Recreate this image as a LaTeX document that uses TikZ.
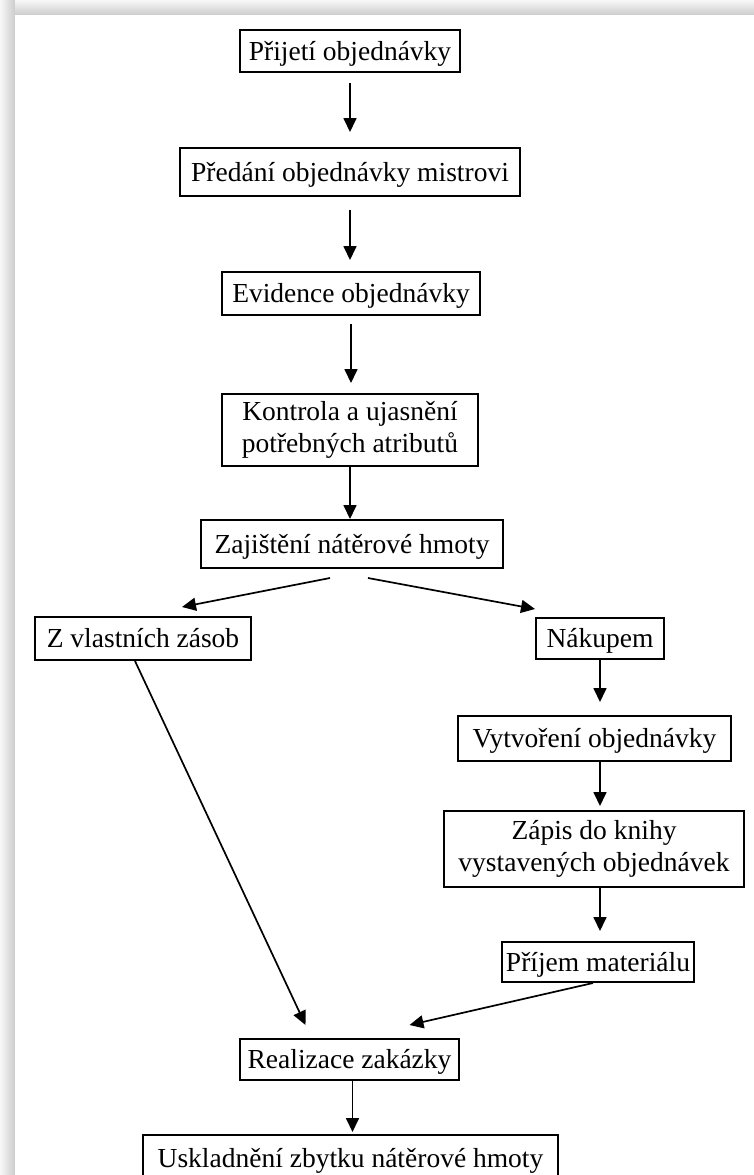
\documentclass[tikz,border=0pt]{standalone}
\usepackage{fontspec}
\setmainfont{Liberation Serif}
\usetikzlibrary{arrows.meta}

\begin{document}
\begin{tikzpicture}
    [x=0.5pt,y=-0.5pt,
    task box/.style={draw,line width=1pt,align=center,inner sep=0pt,
        font=\fontsize{13.75}{16}\selectfont},
    one line/.style={text height=12pt,text depth=3pt},
    flow arrow/.style={-{Triangle[width=6.5pt,length=7pt]},line width=0.85pt}]

%page with its shadow
\useasboundingbox (0,0) rectangle (754,1175);
\fill[gray!25] (0,0) rectangle (754,1175);
\shade[left color=gray!6,right color=gray!40] (0,0) rectangle (15,1175);
\shade[top color=gray!6,bottom color=gray!40] (15,0) rectangle (754,15);
\fill[white] (15,15) rectangle (754,1175);

%main line of boxes
\node[task box,one line,minimum width=110pt,minimum height=21pt] (prijeti) at (350,51) {Přijetí objednávky};
\node[task box,one line,minimum width=170pt,minimum height=24pt] (predani) at (350,172) {Předání objednávky mistrovi};
\node[task box,one line,minimum width=129pt,minimum height=21.5pt] (evidence) at (351,293.5) {Evidence objednávky};
\node[task box,minimum width=128pt,minimum height=36pt] (kontrola) at (350,430) {Kontrola a ujasnění\\potřebných atributů};
\node[task box,one line,minimum width=151pt,minimum height=24pt] (zajisteni) at (352,544) {Zajištění nátěrové hmoty};

%the two ways
\node[task box,one line,minimum width=108pt,minimum height=21.5pt] (zasoby) at (143,638.5) {Z vlastních zásob};
\node[task box,one line,minimum width=64pt,minimum height=20.5pt] (nakupem) at (600,638.5) {Nákupem};
\node[task box,one line,minimum width=136.5pt,minimum height=22.5pt] (vytvoreni) at (594.5,738.5) {Vytvoření objednávky};
\node[task box,minimum width=150pt,minimum height=38pt] (zapis) at (594,849) {Zápis do knihy\\vystavených objednávek};
\node[task box,one line,minimum width=96pt,minimum height=20pt] (prijem) at (598,962) {Příjem materiálu};

%end of the order
\node[task box,one line,minimum width=109.5pt,minimum height=20.5pt] (realizace) at (349.5,1059.5) {Realizace zakázky};
\node[task box,one line,minimum width=207.5pt,minimum height=23pt] (uskladneni) at (350.5,1158) {Uskladnění zbytku nátěrové hmoty};

%arrows
\draw[flow arrow,shorten <=5pt,shorten >=7.5pt] (prijeti.south) -- (prijeti.south |- predani.north);
\draw[flow arrow,shorten <=6.5pt,shorten >=5.5pt] (predani.south) -- (predani.south |- evidence.north);
\draw[flow arrow,shorten <=4pt,shorten >=5pt] (evidence.south) -- (evidence.south |- kontrola.north);
\draw[flow arrow] (kontrola.south) -- (kontrola.south |- zajisteni.north);
\draw[flow arrow] ([xshift=-11pt,yshift=-4.5pt]zajisteni.south) -- ([xshift=19.5pt,yshift=4.5pt]zasoby.north);
\draw[flow arrow] ([xshift=8pt,yshift=-4.5pt]zajisteni.south) -- ([yshift=4pt]nakupem.north west);
\draw[flow arrow,shorten >=6.5pt] (nakupem.south) -- (nakupem.south |- vytvoreni.north);
\draw[flow arrow,shorten >=2pt] (vytvoreni.south -| nakupem) -- (zapis.north -| nakupem);
\draw[flow arrow,shorten >=5pt] (zapis.south -| nakupem) -- (prijem.north -| nakupem);
\draw[flow arrow] ([xshift=-4pt]zasoby.south) -- ([xshift=-22pt,yshift=6.5pt]realizace.north);
\draw[flow arrow] ([xshift=-2.5pt]prijem.south) -- ([xshift=30pt,yshift=6.5pt]realizace.north);
\draw[flow arrow,shorten >=1pt] ([xshift=1.5pt]realizace.south) -- ([xshift=1.5pt]realizace.south |- uskladneni.north);

\end{tikzpicture}
\end{document}
